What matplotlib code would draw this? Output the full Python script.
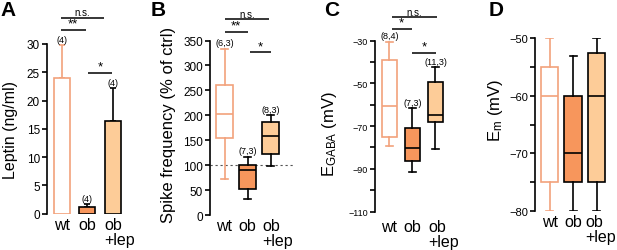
import matplotlib
matplotlib.use("Agg")
import matplotlib.pyplot as plt
from matplotlib import transforms as mtrans

plt.rcParams['font.family'] = ['Liberation Sans', 'DejaVu Sans']
plt.rcParams['mathtext.fontset'] = 'custom'
plt.rcParams['mathtext.rm'] = 'Liberation Sans'
plt.rcParams['mathtext.it'] = 'Liberation Sans:italic'

# ---------------- data ----------------
groups = ["wt", "ob", "ob\n+lep"]

# Panel A: leptin (mean, SEM)
leptin_mean = [24.0, 1.2, 16.3]
leptin_err = [5.8, 0.5, 5.9]
leptin_n = ["(4)", "(4)", "(4)"]

# Panel B: spike frequency (% of ctrl) box stats: whislo, q1, med, q3, whishi
spike_whislo = [72, 32, 99]
spike_q1 = [155, 53, 122]
spike_med = [203, 90, 159]
spike_q3 = [260, 101, 187]
spike_whishi = [333, 117, 200]
spike_n = ["(6,3)", "(7,3)", "(8,3)"]

# Panel C: EGABA (mV)
egaba_whislo = [-79.3, -91.3, -80.8]
egaba_q1 = [-75.3, -86.3, -68.3]
egaba_med = [-60.8, -80.4, -64.7]
egaba_q3 = [-39.1, -71.1, -49.2]
egaba_whishi = [-30.5, -61.7, -42.5]
egaba_n = ["(8,4)", "(7,3)", "(11,3)"]

# Panel D: Em (mV)
em_whislo = [-80, -80, -80]
em_q1 = [-75, -75, -75]
em_med = [-60, -70, -60]
em_q3 = [-55, -60, -52.5]
em_whishi = [-50, -53, -50]

# ---------------- style ----------------
C_WT = '#F2A27C'
C_OB = '#F7965C'
C_LEP = '#FDCC98'
facecolors = ['white', C_OB, C_LEP]
edgecolors = [C_WT, 'black', 'black']
LW = 1.2

W, H = 617, 251
fig = plt.figure(figsize=(W / 100, H / 100), dpi=100)


def add_ax(l, t, r, b):
    return fig.add_axes([l / W, 1 - b / H, (r - l) / W, (b - t) / H])


def style_axes(ax, fs):
    for s in ['top', 'right', 'bottom']:
        ax.spines[s].set_visible(False)
    ax.spines['left'].set_linewidth(LW)
    ax.tick_params(axis='y', which='both', direction='out', width=LW,
                   labelsize=fs, pad=1.5)
    ax.tick_params(axis='y', which='major', length=3.5)
    ax.tick_params(axis='y', which='minor', length=3.5)
    ax.set_xticks([])


def group_labels(ax, xs, dy=-3, lep_dx=-8):
    base = mtrans.blended_transform_factory(ax.transData, ax.transAxes)
    for x, g in zip(xs, groups):
        if "\n" in g:
            tr = mtrans.offset_copy(base, fig=fig, x=lep_dx, y=dy, units='dots')
            ax.text(x, 0, g, transform=tr, ha='left', va='top', fontsize=11.5,
                    multialignment='left', linespacing=1.0, clip_on=False)
        else:
            tr = mtrans.offset_copy(base, fig=fig, x=0, y=dy, units='dots')
            ax.text(x, 0, g, transform=tr, ha='center', va='top', fontsize=11.5,
                    clip_on=False)


def sig(ax, x0, x1, y, txt, fs=7):
    ax.plot([x0, x1], [y, y], color='black', lw=1.1, clip_on=False,
            solid_capstyle='butt')
    tr = mtrans.offset_copy(ax.transData, fig=fig, x=0, y=0.5, units='dots')
    ax.text((x0 + x1) / 2, y, txt, transform=tr, ha='center', va='bottom',
            fontsize=fs, clip_on=False)


def boxes(ax, xs, lo, q1, med, q3, hi, width):
    for i, x in enumerate(xs):
        st = dict(whislo=lo[i], q1=q1[i], med=med[i], q3=q3[i],
                  whishi=hi[i], fliers=[])
        ec = edgecolors[i]
        ax.bxp([st], positions=[x], widths=width, patch_artist=True,
               showfliers=False, capwidths=width * 0.4,
               boxprops=dict(facecolor=facecolors[i], edgecolor=ec, linewidth=LW),
               medianprops=dict(color=ec, linewidth=LW),
               whiskerprops=dict(color=ec, linewidth=LW),
               capprops=dict(color=ec, linewidth=LW),
               manage_ticks=False)


def nlabel(ax, x, y, txt, fs=6.5):
    tr = mtrans.offset_copy(ax.transData, fig=fig, x=0, y=1.5, units='dots')
    ax.text(x, y, txt, transform=tr, ha='center', va='bottom', fontsize=fs,
            clip_on=False)


def ylabel_px(ax, left, width, right_px, yfrac):
    ax.yaxis.set_label_coords((right_px - left) / width, yfrac)


xs = [0, 1, 2]
STAR = 9.5

# ---------------- Panel A ----------------
axA = add_ax(47, 45, 125, 214.7)
axA.set_xlim(-0.57, 2.48)
axA.set_ylim(0, 30)
axA.bar(xs, leptin_mean, width=0.63, color=facecolors, edgecolor=edgecolors,
        linewidth=LW, zorder=2)
for i in range(3):
    axA.errorbar([xs[i]], [leptin_mean[i]], yerr=[[0], [leptin_err[i]]],
                 fmt='none', ecolor=edgecolors[i], elinewidth=LW, capsize=2.5,
                 capthick=LW, zorder=1, clip_on=False)
    nlabel(axA, xs[i], leptin_mean[i] + leptin_err[i], leptin_n[i])
axA.set_yticks(range(0, 31, 5))
style_axes(axA, 8.5)
group_labels(axA, xs, lep_dx=-8)
axA.set_ylabel("Leptin (ng/ml)", fontsize=11.5)
ylabel_px(axA, 47, 78, 18, 0.5)
sig(axA, -0.04, 1.64, 34.6, "n.s.")
sig(axA, -0.04, 0.95, 32.4, "**", fs=STAR)
sig(axA, 1.03, 1.98, 24.8, "*", fs=STAR)

# ---------------- Panel B ----------------
axB = add_ax(210, 41.5, 300, 216.3)
axB.set_xlim(-0.63, 3.28)
axB.set_ylim(0, 350)
axB.plot([-0.63, 3.05], [100, 100], color='#555555', lw=0.8,
         linestyle=(0, (2, 2.5)), zorder=0)
boxes(axB, xs, spike_whislo, spike_q1, spike_med, spike_q3, spike_whishi, 0.7)
for i in range(3):
    nlabel(axB, xs[i], spike_whishi[i], spike_n[i])
axB.set_yticks(range(0, 351, 50))
style_axes(axB, 8.5)
group_labels(axB, xs, lep_dx=-8.5)
axB.set_ylabel("Spike frequency (% of ctrl)", fontsize=12)
ylabel_px(axB, 210, 90, 176, 0.52)
sig(axB, 0.02, 1.93, 393, "n.s.")
sig(axB, 0.02, 1.0, 368, "**", fs=STAR)
sig(axB, 1.1, 2.02, 326, "*", fs=STAR)

# ---------------- Panel C ----------------
axC = add_ax(375, 41.7, 455, 212.5)
axC.set_xlim(-0.63, 2.85)
axC.set_ylim(-110, -30)
boxes(axC, xs, egaba_whislo, egaba_q1, egaba_med, egaba_q3, egaba_whishi, 0.67)
for i in range(3):
    nlabel(axC, xs[i], egaba_whishi[i], egaba_n[i])
axC.set_yticks([-110, -90, -70, -50, -30])
axC.set_yticks([-100, -80, -60, -40], minor=True)
style_axes(axC, 6.5)
group_labels(axC, xs, dy=-8, lep_dx=-7.5)
axC.set_ylabel(r"E$_{\mathrm{GABA}}$ (mV)", fontsize=12)
ylabel_px(axC, 375, 80, 339, 0.46)
sig(axC, 0.1, 2.07, -19, "n.s.")
sig(axC, 0.1, 0.97, -24.3, "*", fs=STAR)
sig(axC, 1.0, 2.02, -35.8, "*", fs=STAR)

# ---------------- Panel D ----------------
axD = add_ax(535, 39.3, 612, 211.8)
axD.set_xlim(-0.62, 2.66)
axD.set_ylim(-80, -50)
boxes(axD, xs, em_whislo, em_q1, em_med, em_q3, em_whishi, 0.745)
axD.set_yticks([-80, -70, -60, -50])
axD.set_yticks([-75, -65, -55], minor=True)
style_axes(axD, 8)
group_labels(axD, xs, lep_dx=-11)
axD.set_ylabel(r"E$_{\mathrm{m}}$ (mV)", fontsize=12)
ylabel_px(axD, 535, 77, 505, 0.59)

# ---------------- panel letters ----------------
for x, letter in [(0, "A"), (151, "B"), (324, "C"), (489, "D")]:
    fig.text(x / W, 1 - 1 / H, letter, fontsize=15, fontweight='bold',
             ha='left', va='top')

fig.savefig("out.png", dpi=100)
